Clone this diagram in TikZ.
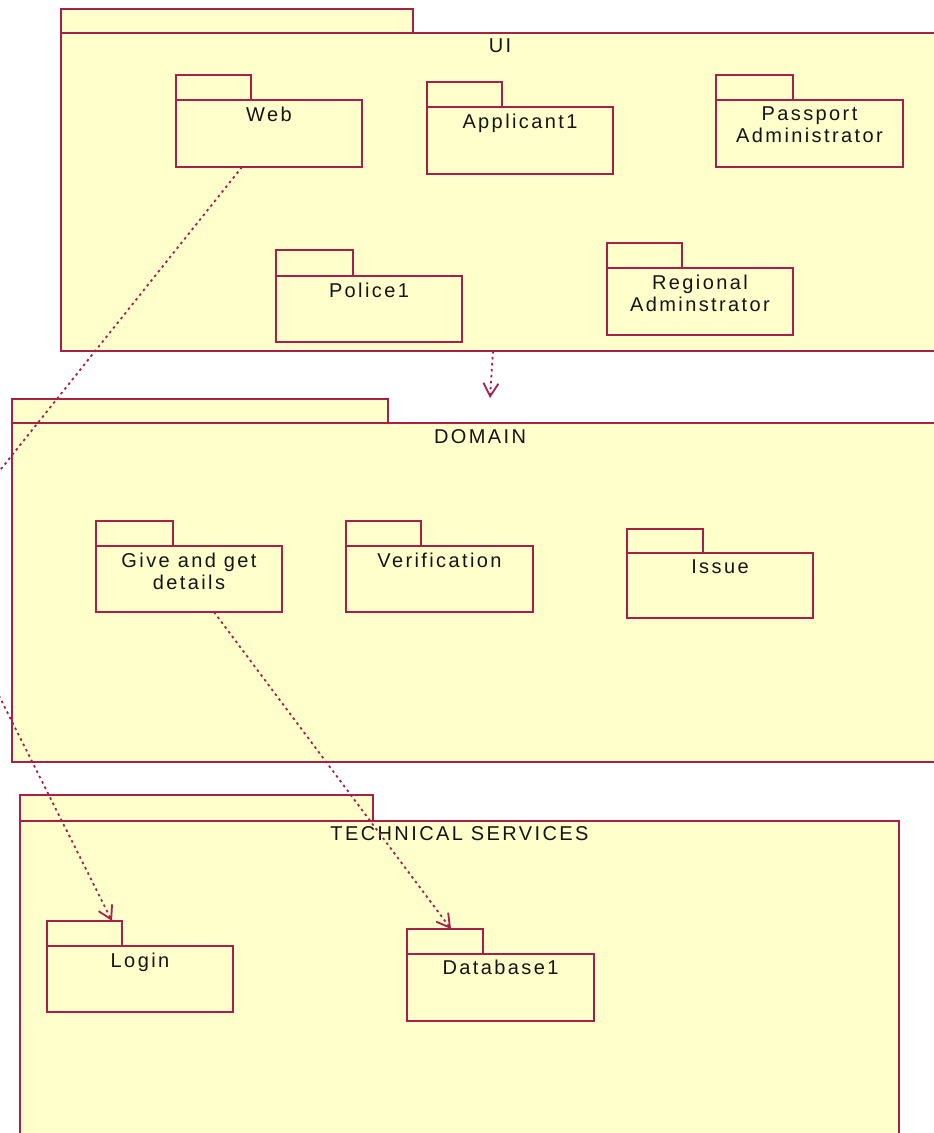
\documentclass[tikz,border=0pt]{standalone}
\usepackage{fontspec}
\setmainfont{Liberation Sans}[LetterSpace=12]
\usepackage{xcolor}
\usepackage{tikz}
\usetikzlibrary{positioning, arrows.meta}

\definecolor{pkgline}{RGB}{168,32,74}
\definecolor{pkgfill}{RGB}{255,255,204}
\definecolor{pkgtext}{RGB}{20,20,20}

\begin{document}
\begin{tikzpicture}[
    x=1pt, y=-1pt,
    pkg/.style={draw=pkgline, fill=pkgfill, line width=1.7pt, anchor=north west,
                inner sep=0pt, outer sep=0pt},
    small/.style={pkg, minimum width=186pt, minimum height=67pt},
    tab/.style={pkg, minimum width=#1, minimum height=25pt},
    ttl/.style={anchor=north, yshift=#1, inner sep=0pt, align=center,
                text=pkgtext, font=\fontsize{20}{22}\selectfont},
    ttl/.default=-7pt,
    dep/.style={draw=pkgline, line width=1.8pt, dash pattern=on 2.5pt off 3.5pt,
                -{Straight Barb[length=13pt, width=15pt]}}
  ]
  \useasboundingbox (0,0) rectangle (934,1133);
  \clip (0,0) rectangle (934,1133);
  \fill[white] (0,0) rectangle (934,1133);

  % UI
  \node[pkg, minimum width=878pt, minimum height=318pt,
        label={[ttl=-6pt]north:UI}] (ui) at (61,33) {};
  \node[tab=352pt, minimum height=24pt, above right=0pt of ui.north west] (uitab) {};

  \node[small, label={[ttl]north:Web}] (web) at (176,100) {};
  \node[tab=75pt, above right=0pt of web.north west] (webtab) {};
  \node[small, label={[ttl]north:Applicant1}] (applicant) at (427,107) {};
  \node[tab=75pt, above right=0pt of applicant.north west] (applicanttab) {};
  \node[small, minimum width=187pt, label={[ttl]north:Passport\\Administrator}] (passport) at (716,100) {};
  \node[tab=77pt, above right=0pt of passport.north west] (passporttab) {};
  \node[small, minimum height=66pt, label={[ttl]north:Police1}] (police) at (276,276) {};
  \node[tab=77pt, minimum height=26pt, above right=0pt of police.north west] (policetab) {};
  \node[small, label={[ttl]north:Regional\\Adminstrator}] (regional) at (607,268) {};
  \node[tab=75pt, above right=0pt of regional.north west] (regionaltab) {};

  % DOMAIN
  \node[pkg, minimum width=936pt, minimum height=339pt,
        label={[ttl=-6pt]north:DOMAIN}] (domain) at (12,423) {};
  \node[tab=376pt, minimum height=24pt, above right=0pt of domain.north west] (domaintab) {};

  \node[small, minimum height=66pt, label={[ttl]north:Give and get\\details}] (give) at (96,546) {};
  \node[tab=77pt, above right=0pt of give.north west] (givetab) {};
  \node[small, minimum width=187pt, minimum height=66pt, label={[ttl]north:Verification}] (verif) at (346,546) {};
  \node[tab=75pt, above right=0pt of verif.north west] (veriftab) {};
  \node[small, minimum height=65pt, label={[ttl]north:Issue}] (issue) at (627,553) {};
  \node[tab=76pt, minimum height=24pt, above right=0pt of issue.north west] (issuetab) {};

  % TECHNICAL SERVICES
  \node[pkg, minimum width=879pt, minimum height=340pt,
        label={[ttl=-5pt]north:TECHNICAL SERVICES}] (tech) at (20,821) {};
  \node[tab=353pt, minimum height=26pt, above right=0pt of tech.north west] (techtab) {};

  \node[small, minimum height=66pt, label={[ttl]north:Login}] (login) at (47,946) {};
  \node[tab=75pt, above right=0pt of login.north west] (logintab) {};
  \node[small, minimum width=187pt, label={[ttl=-6pt]north:Database1}] (db) at (407,954) {};
  \node[tab=76pt, above right=0pt of db.north west] (dbtab) {};

  % dependencies
  \coordinate (domaintop) at (490,398);
  \coordinate (bend) at (-70,558);
  \draw[dep] ([xshift=-7pt]ui.south) -- (domaintop);
  \draw[dep] ([xshift=66pt]web.south west) -- (bend) -- ([xshift=-10pt]logintab.north east);
  \draw[dep] ([xshift=118pt]give.south west) -- ([xshift=-32pt]dbtab.north east);
\end{tikzpicture}
\end{document}
